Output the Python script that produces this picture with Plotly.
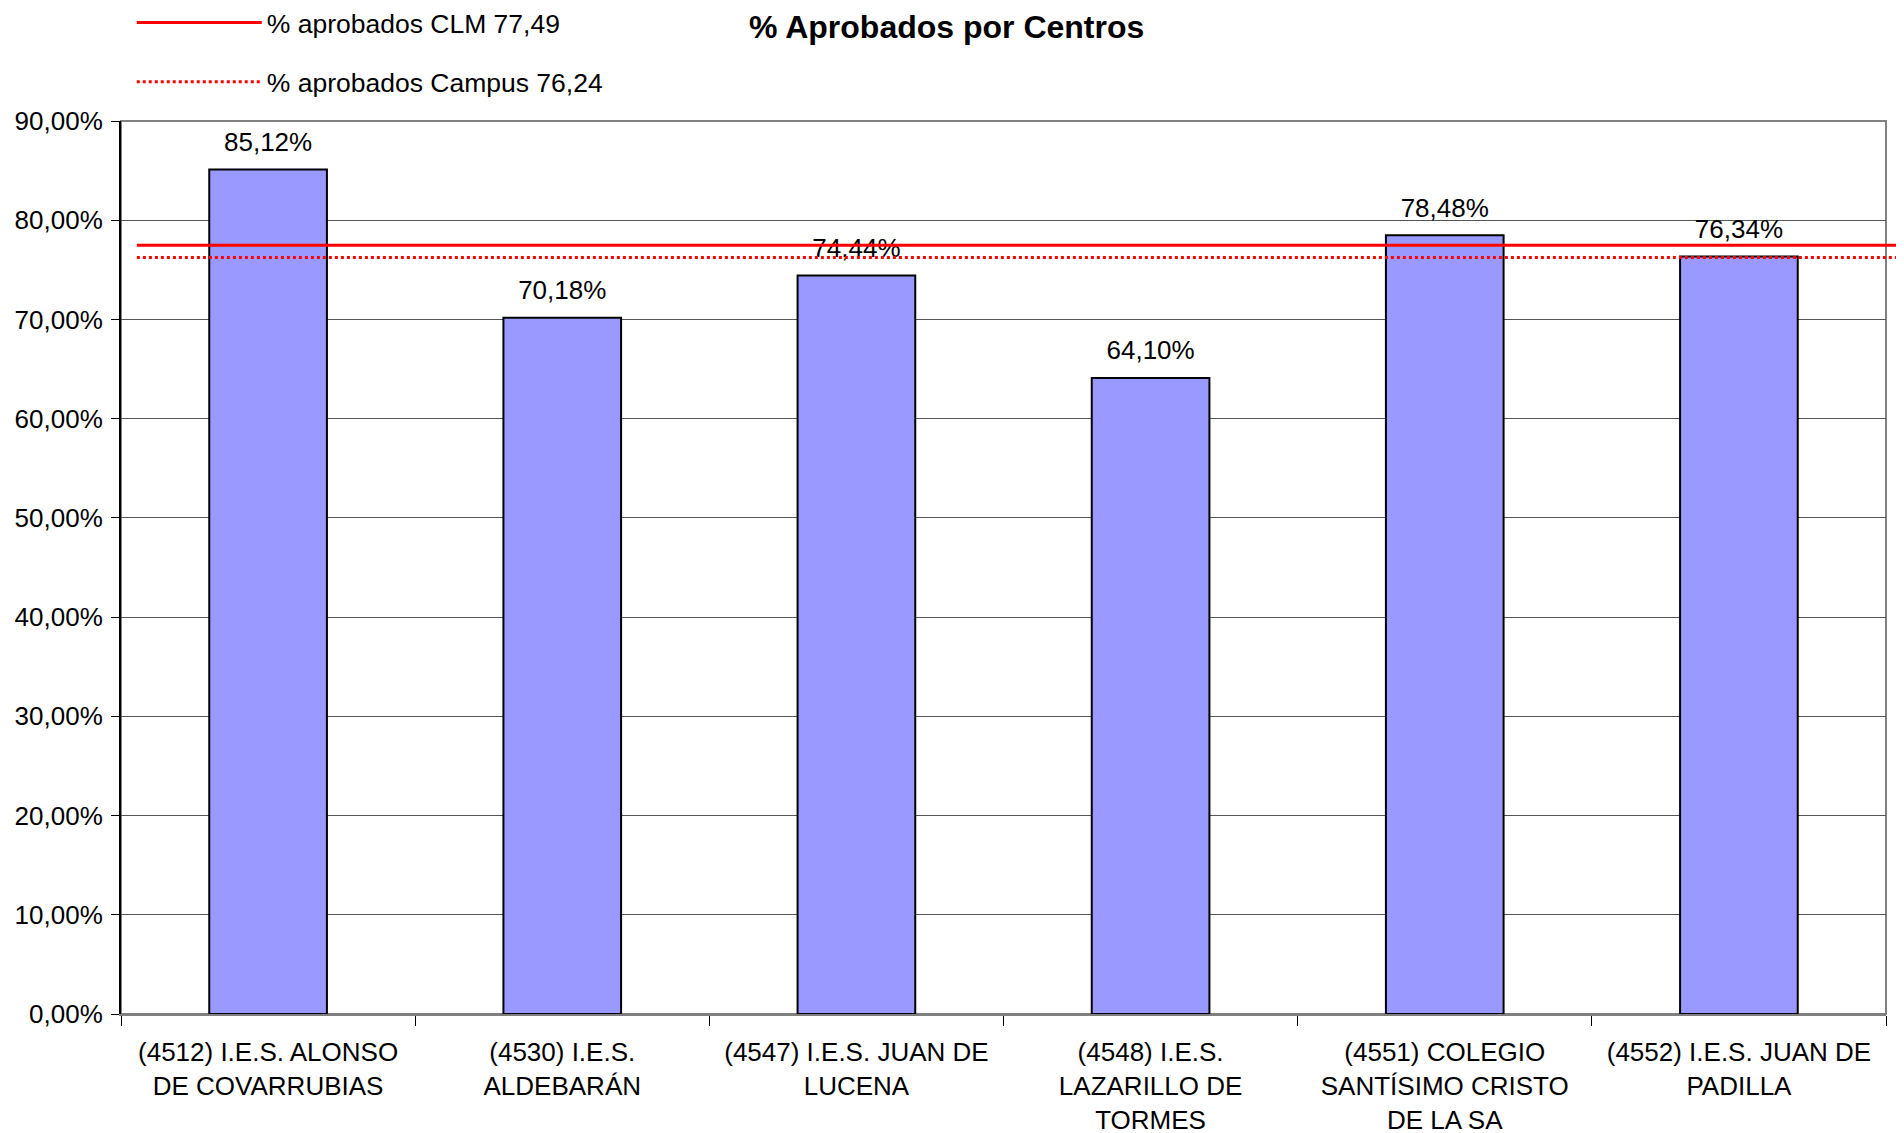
import plotly.graph_objects as go

# data
centros = ['(4512) I.E.S. ALONSO<br>DE COVARRUBIAS',
           '(4530) I.E.S.<br>ALDEBARÁN',
           '(4547) I.E.S. JUAN DE<br>LUCENA',
           '(4548) I.E.S.<br>LAZARILLO DE<br>TORMES',
           '(4551) COLEGIO<br>SANTÍSIMO CRISTO<br>DE LA SA',
           '(4552) I.E.S. JUAN DE<br>PADILLA']
aprobados = [0.8512, 0.7018, 0.7444, 0.6410, 0.7848, 0.7634]

clm_name = '% aprobados CLM 77,49'
clm_value = 0.7749
campus_name = '% aprobados Campus 76,24'
campus_value = 0.7624

font = 'Liberation Sans, Arial, sans-serif'

fig = go.Figure()
fig.add_trace(go.Bar(
    x=centros, y=aprobados,
    marker_color='#9999FF',
    marker_line_color='black', marker_line_width=2,
    showlegend=False, hoverinfo='x+y'))

# value labels above the bars (invisible marker pushes the text up a bit)
fig.add_trace(go.Scatter(
    x=centros, y=aprobados, mode='markers+text',
    marker=dict(size=18, opacity=0),
    texttemplate='%{y:.2%}', textposition='top center',
    textfont=dict(size=26, color='black'),
    cliponaxis=False, showlegend=False, hoverinfo='skip'))

# legend entries for the reference lines
fig.add_trace(go.Scatter(x=[None], y=[None], mode='lines', name=clm_name,
                         legendgroup='clm',
                         line=dict(color='#FF0000', width=3)))
fig.add_trace(go.Scatter(x=[None], y=[None], mode='lines', name=campus_name,
                         legendgroup='campus',
                         line=dict(color='#FF0000', width=3, dash='dot')))

# plot border (gray)
fig.add_shape(type='rect', xref='x domain', yref='y domain', x0=0, x1=1, y0=0, y1=1,
              line=dict(color='#808080', width=2), layer='below')

# horizontal reference lines
fig.add_shape(type='line', xref='x domain', yref='y', x0=0.009, x1=1.006,
              y0=clm_value, y1=clm_value,
              line=dict(color='#FF0000', width=3), layer='above')
fig.add_shape(type='line', xref='x domain', yref='y', x0=0.009, x1=1.006,
              y0=campus_value, y1=campus_value,
              line=dict(color='#FF0000', width=3, dash='dot'), layer='above')

fig.update_layout(
    width=1904, height=1133,
    paper_bgcolor='white', plot_bgcolor='white',
    separators=',.',
    font=dict(family=font, size=26, color='black'),
    margin=dict(l=113, r=26, t=113, b=127, autoexpand=False),
    bargap=0.6,
    title=dict(text='<b>% Aprobados por Centros</b>', x=0.493, xanchor='center',
               y=0.983, yanchor='middle', font=dict(size=32, color='black')),
    legend=dict(x=0.065, y=1.137, xanchor='left', yanchor='top',
                yref='paper', xref='container',
                orientation='v', tracegroupgap=22, itemwidth=125,
                font=dict(size=26.5), bgcolor='rgba(0,0,0,0)'),
)

fig.update_xaxes(showline=True, linecolor='#808080', linewidth=2,
                 ticks='outside', tickson='boundaries', ticklen=10, tickcolor='black',
                 tickangle=0, ticklabelstandoff=14, tickfont=dict(size=26),
                 showgrid=False)
fig.update_yaxes(range=[0, 0.9], dtick=0.1, tickformat='.2%',
                 showline=True, linecolor='black', linewidth=2,
                 ticks='outside', ticklen=8, tickcolor='black', ticklabelstandoff=3,
                 showgrid=True, gridcolor='#555555', gridwidth=1,
                 zeroline=False, tickfont=dict(size=26))

fig.write_html('out.html')
